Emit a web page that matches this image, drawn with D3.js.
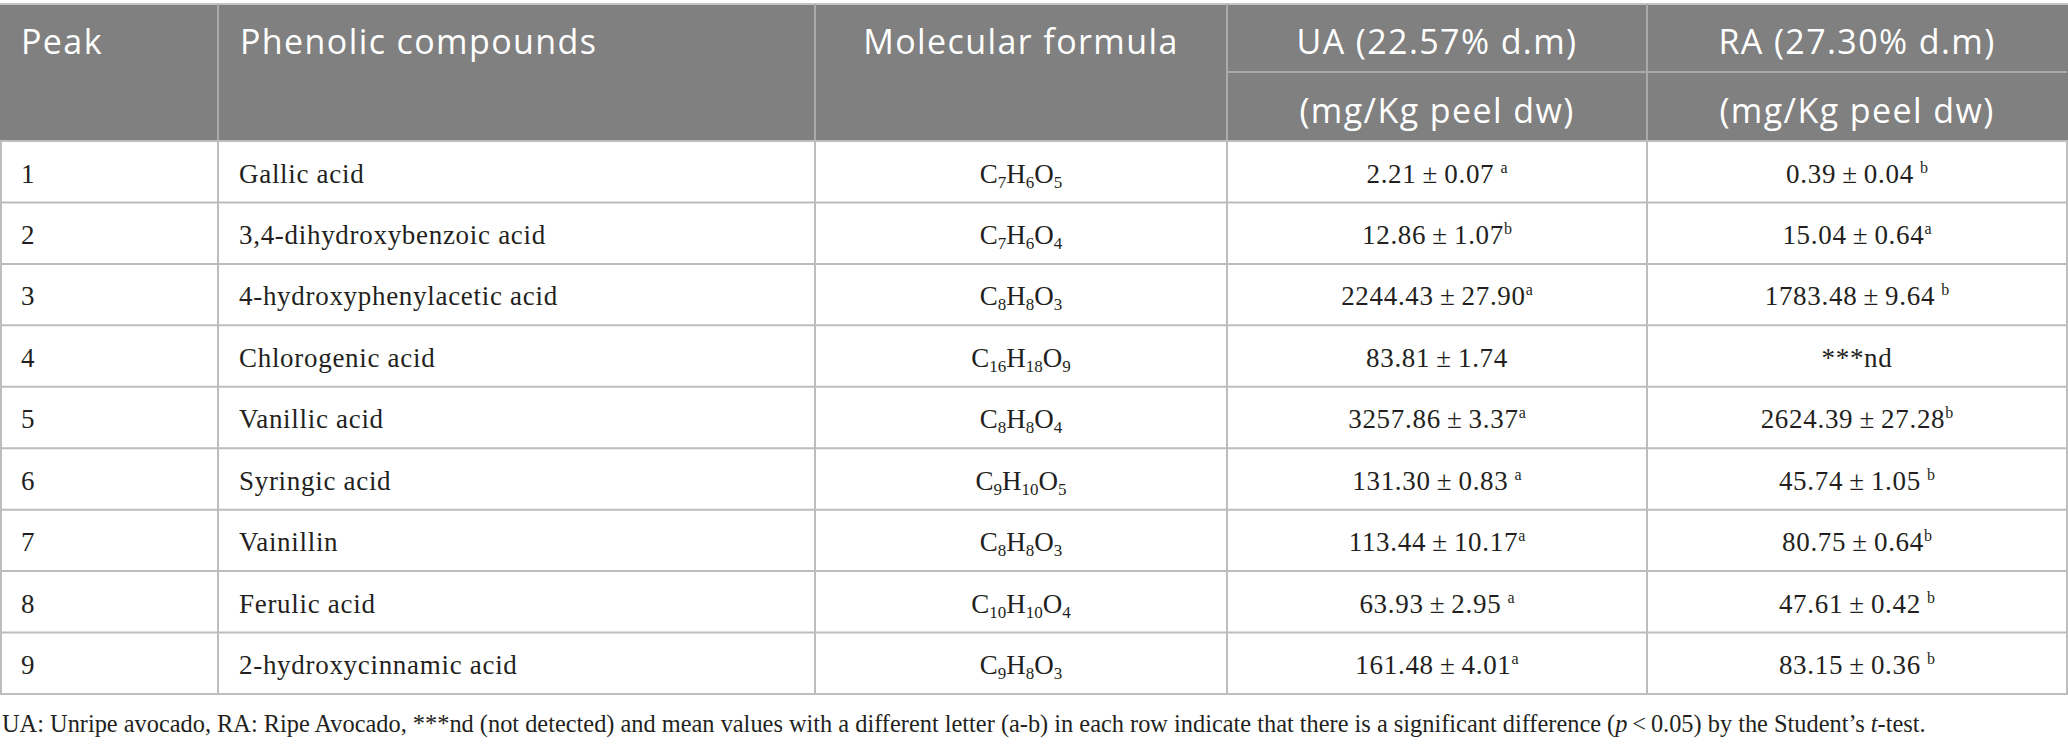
<!DOCTYPE html>
<html>
<head>
<meta charset="utf-8">
<script src="https://cdn.jsdelivr.net/npm/d3@7"></script>
<style>
  html, body { margin: 0; padding: 0; background: #fff; }
  svg { display: block; }
</style>
</head>
<body>
<svg id="chart" width="2068" height="749"></svg>
<script>
// ---------------- DATA ----------------
const peaks = [1, 2, 3, 4, 5, 6, 7, 8, 9];
const compounds = [
  "Gallic acid",
  "3,4-dihydroxybenzoic acid",
  "4-hydroxyphenylacetic acid",
  "Chlorogenic acid",
  "Vanillic acid",
  "Syringic acid",
  "Vainillin",
  "Ferulic acid",
  "2-hydroxycinnamic acid"
];
const formulas = ["C7H6O5", "C7H6O4", "C8H8O3", "C16H18O9", "C8H8O4", "C9H10O5", "C8H8O3", "C10H10O4", "C9H8O3"];
const uaMean = [2.21, 12.86, 2244.43, 83.81, 3257.86, 131.30, 113.44, 63.93, 161.48];
const uaSD = [0.07, 1.07, 27.90, 1.74, 3.37, 0.83, 10.17, 2.95, 4.01];
const uaLetter = [" a", "b", "a", "", "a", " a", "a", " a", "a"];
const raMean = [0.39, 15.04, 1783.48, null, 2624.39, 45.74, 80.75, 47.61, 83.15];
const raSD = [0.04, 0.64, 9.64, null, 27.28, 1.05, 0.64, 0.42, 0.36];
const raLetter = [" b", "a", " b", "", "b", " b", "b", " b", " b"];
const notDetected = "***nd";
const headerCols = ["Peak", "Phenolic compounds", "Molecular formula"];
const headerUA = ["UA (22.57% d.m)", "(mg/Kg peel dw)"];
const headerRA = ["RA (27.30% d.m)", "(mg/Kg peel dw)"];
const footnoteParts = [
  {t: "UA: Unripe avocado, RA: Ripe Avocado, ***nd (not detected) and mean values with a different letter (a-b) in each row indicate that there is a significant difference (", i: false},
  {t: "p", i: true},
  {t: "\u2009<\u20090.05) by the Student\u2019s ", i: false},
  {t: "t", i: true},
  {t: "-test.", i: false}
];

// ---------------- LAYOUT ----------------
const W = 2068;
const colEdges = [0, 218, 815, 1227, 1647, 2067];
const headTop = 4, headMid = 72, headBottom = 141, tableBottom = 694;
const headerBg = "#7f807f";
const headerLine = "#a9aaa9";
const gridLine = "#bdbdbd";
const textColor = "#231f20";
const sansFont = "'Open Sans', 'Noto Sans', sans-serif";
const serifFont = "'Liberation Serif', 'DejaVu Serif', serif";

const svg = d3.select("#chart");
const y = d3.scaleBand().domain(peaks).range([headBottom, tableBottom]);
const colCenter = i => (colEdges[i] + colEdges[i + 1]) / 2;
const fmt = d3.format(".2f");

// header background
svg.append("rect")
  .attr("x", colEdges[0]).attr("y", headTop)
  .attr("width", colEdges[5] - colEdges[0] + 1).attr("height", headBottom - headTop)
  .attr("fill", headerBg);

// top border
svg.append("line")
  .attr("x1", 0).attr("x2", W).attr("y1", headTop).attr("y2", headTop)
  .attr("stroke", "#c4c4c4").attr("stroke-width", 2);

// header vertical lines
svg.selectAll("line.hv").data(colEdges.slice(1, 5)).join("line")
  .attr("class", "hv")
  .attr("x1", d => d).attr("x2", d => d)
  .attr("y1", headTop).attr("y2", headBottom)
  .attr("stroke", headerLine).attr("stroke-width", 2);
// header mid line (UA/RA)
svg.append("line")
  .attr("x1", colEdges[3]).attr("x2", colEdges[5])
  .attr("y1", headMid).attr("y2", headMid)
  .attr("stroke", headerLine).attr("stroke-width", 2);

// body grid: horizontal
const hLines = [headBottom].concat(peaks.map(p => y(p) + y.bandwidth()));
svg.selectAll("line.bh").data(hLines).join("line")
  .attr("class", "bh")
  .attr("x1", 0).attr("x2", colEdges[5] + 1)
  .attr("y1", d => d).attr("y2", d => d)
  .attr("stroke", gridLine).attr("stroke-width", 2);
// body grid: vertical
svg.selectAll("line.bv").data(colEdges).join("line")
  .attr("class", "bv")
  .attr("x1", (d, i) => i === 0 ? 1 : d).attr("x2", (d, i) => i === 0 ? 1 : d)
  .attr("y1", headBottom).attr("y2", tableBottom)
  .attr("stroke", gridLine).attr("stroke-width", 2);

// header text
const hText = svg.append("g")
  .attr("font-family", sansFont).attr("font-size", 34)
  .attr("fill", "#ffffff").attr("letter-spacing", 1.4);
const base1 = 54, base2 = 123;
hText.append("text").attr("x", 21).attr("y", base1).text(headerCols[0]);
hText.append("text").attr("x", colEdges[1] + 22).attr("y", base1).text(headerCols[1]);
hText.append("text").attr("x", colCenter(2)).attr("y", base1).attr("text-anchor", "middle").text(headerCols[2]);
headerUA.forEach((t, i) => hText.append("text").attr("x", colCenter(3)).attr("y", i ? base2 : base1).attr("text-anchor", "middle").text(t));
headerRA.forEach((t, i) => hText.append("text").attr("x", colCenter(4)).attr("y", i ? base2 : base1).attr("text-anchor", "middle").text(t));

// body text
const bText = svg.append("g")
  .attr("font-family", serifFont).attr("font-size", 27)
  .attr("fill", textColor).attr("letter-spacing", 0.7);
const baseOff = 41.5;

const rows = bText.selectAll("g.row").data(peaks).join("g")
  .attr("class", "row")
  .attr("transform", p => `translate(0,${y(p) + baseOff})`);

rows.append("text").attr("x", 21).text(p => p);
rows.append("text").attr("x", colEdges[1] + 21).text((p, i) => compounds[i]);

// molecular formula with subscripts
const subShift = 5;
rows.append("text")
  .attr("x", colCenter(2)).attr("text-anchor", "middle").attr("letter-spacing", 0)
  .each(function(p, i) {
    const t = d3.select(this);
    const parts = [...formulas[i].matchAll(/([A-Z][a-z]?)(\d*)/g)];
    let lowered = false;
    parts.forEach(m => {
      const el = t.append("tspan").text(m[1]);
      if (lowered) { el.attr("dy", -subShift); lowered = false; }
      if (m[2]) {
        t.append("tspan").attr("font-size", 17).attr("dy", subShift).text(m[2]);
        lowered = true;
      }
    });
  });

function valueCell(sel, col, means, sds, letters) {
  sel.append("text")
    .attr("x", colCenter(col)).attr("text-anchor", "middle")
    .each(function(p, i) {
      const t = d3.select(this);
      if (means[i] === null) { t.text(notDetected); return; }
      const L = letters[i];
      const main = fmt(means[i]) + "\u2009\u00b1\u2009" + fmt(sds[i]) + (L.startsWith(" ") ? "\u2009" : "");
      t.append("tspan").text(main);
      if (L) {
        t.append("tspan").attr("font-size", 16).attr("dy", -10).attr("letter-spacing", 0).text(L.trim());
      }
    });
}
valueCell(rows, 3, uaMean, uaSD, uaLetter);
valueCell(rows, 4, raMean, raSD, raLetter);

// footnote
const foot = svg.append("text")
  .attr("x", 2).attr("y", 732)
  .attr("font-family", serifFont).attr("font-size", 27)
  .attr("fill", textColor);
footnoteParts.forEach(p => foot.append("tspan").attr("font-style", p.i ? "italic" : "normal").text(p.t));
const natural = foot.node().getComputedTextLength();
const targetW = 1924;
foot.attr("font-size", 27 * targetW / natural);
</script>
</body>
</html>
